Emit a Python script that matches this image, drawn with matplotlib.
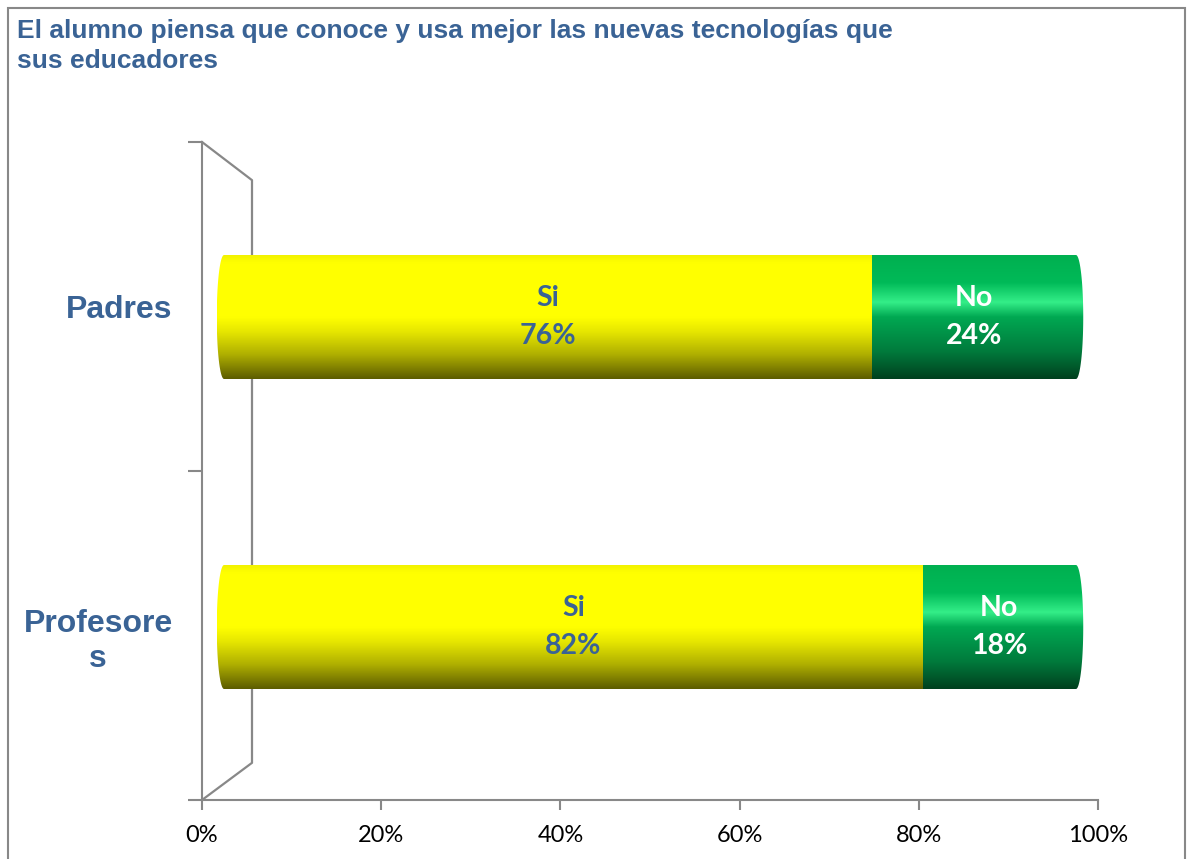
import numpy as np
import matplotlib
matplotlib.use("Agg")
import matplotlib.pyplot as plt
from matplotlib.path import Path
from matplotlib.patches import PathPatch, Rectangle

categories = ["Padres", "Profesore\ns"]
series_names = ["Si", "No"]
si_values = [76, 82]
no_values = [24, 18]
tick_labels = ["0%", "20%", "40%", "60%", "80%", "100%"]

title = "El alumno piensa que conoce y usa mejor las nuevas tecnologías que\nsus educadores"

blue = "#3A6395"
gray = "#888888"

# gradientes verticales (arriba -> abajo) para simular cilindros
yellow_stops = [(0.0, "#F2F200"), (0.06, "#FFFF00"), (0.5, "#FFFF00"),
                (0.62, "#E6E600"), (0.8, "#B0B000"), (1.0, "#5C5C00")]
green_stops = [(0.0, "#00B050"), (0.22, "#00BA58"), (0.38, "#34EE88"),
               (0.5, "#00A852"), (0.78, "#007A3C"), (1.0, "#00401E")]


def gradient(stops, n=256):
    pos = [s[0] for s in stops]
    cols = np.array([matplotlib.colors.to_rgb(s[1]) for s in stops])
    t = np.linspace(0, 1, n)
    rgb = np.stack([np.interp(t, pos, cols[:, k]) for k in range(3)], axis=1)
    return rgb[:, None, :]


def cylinder_path(x0, x1, yc, h, rx):
    th_l = np.linspace(np.pi / 2, 3 * np.pi / 2, 40)
    th_r = np.linspace(-np.pi / 2, np.pi / 2, 40)
    xs = np.concatenate([x0 + rx * np.cos(th_l), x1 + rx * np.cos(th_r)])
    ys = np.concatenate([yc + h / 2 * np.sin(th_l), yc + h / 2 * np.sin(th_r)])
    verts = np.column_stack([xs, ys])
    verts = np.vstack([verts, verts[:1]])
    codes = [Path.MOVETO] + [Path.LINETO] * (len(verts) - 2) + [Path.CLOSEPOLY]
    return Path(verts, codes)


W, H = 1189, 859
fig = plt.figure(figsize=(W / 100, H / 100), dpi=100)

# marco del grafico
fig.patches.append(Rectangle((8 / W, -0.01), (1185 - 8) / W, 1.01 - 8 / H,
                             transform=fig.transFigure, fill=False,
                             edgecolor=gray, linewidth=1.5))

fig.text(17 / W, 1 - 19 / H, title, ha="left", va="top", fontsize=19,
         fontweight="bold", color=blue, family="Liberation Sans",
         linespacing=1.3)

# ejes frontales (escala y pared)
ax = fig.add_axes([202 / W, 59 / H, 896 / W, 658 / H])
ax.set_xlim(0, 100)
ax.set_ylim(0, 2)
for s in ["top", "right"]:
    ax.spines[s].set_visible(False)
for s in ["left", "bottom"]:
    ax.spines[s].set_color(gray)
    ax.spines[s].set_linewidth(1.5)
ax.set_xticks(np.arange(0, 101, 20))
ax.set_xticklabels(tick_labels, family="Lato", fontsize=17, color="black")
ax.set_yticks([0, 1, 2])
ax.set_yticklabels([])
ax.set_yticks([1.5, 0.5], minor=True)
ax.set_yticklabels(categories, minor=True, family="Liberation Sans",
                   fontsize=23, fontweight="bold", color=blue,
                   multialignment="center")
ax.tick_params(axis="x", length=7, width=1.5, color=gray, pad=11)
ax.tick_params(axis="y", which="major", length=10, width=1.5, color=gray)
ax.tick_params(axis="y", which="minor", length=0, pad=21)
ax.patch.set_visible(False)

# pared lateral en perspectiva
depth_x, depth_top, depth_bot = 5.58, 1.884, 0.113
ax.plot([0, depth_x, depth_x, 0], [2, depth_top, depth_bot, 0],
        color=gray, linewidth=1.6, clip_on=False)

# plano de las barras (0% -> x=224 px, 100% -> x=1076 px)
px_unit = 8.52
pad_u = 3
axb = fig.add_axes([(224 - pad_u * px_unit) / W, 77 / H,
                    (100 + 2 * pad_u) * px_unit / W, 620 / H])
axb.axis("off")

ypos = np.arange(len(categories))[::-1]
bar_h = 0.4
rx = 0.85
for i, y in enumerate(ypos):
    vals = [si_values[i], no_values[i]]
    total = sum(vals)
    clip = PathPatch(cylinder_path(0, total, y, bar_h, rx),
                     transform=axb.transData, facecolor="none",
                     edgecolor="none")
    axb.add_patch(clip)
    left = 0
    for j, (v, stops) in enumerate(zip(vals, [yellow_stops, green_stops])):
        x0 = left - (rx if j == 0 else 0)
        x1 = left + v + (rx if j == len(vals) - 1 else 0)
        im = axb.imshow(gradient(stops), extent=(x0, x1, y - bar_h / 2, y + bar_h / 2),
                        origin="upper", aspect="auto", interpolation="bilinear")
        im.set_clip_path(clip)
        tcol = blue if j == 0 else "white"
        axb.text(left + v / 2, y, f"{series_names[j]}\n{v}%", ha="center",
                 va="center", fontsize=20.5, fontweight="bold", color=tcol,
                 family="Lato", linespacing=1.55)
        left += v
axb.set_xlim(-pad_u, 100 + pad_u)
axb.set_ylim(-0.5, 1.5)

fig.savefig("out.png", dpi=100)
